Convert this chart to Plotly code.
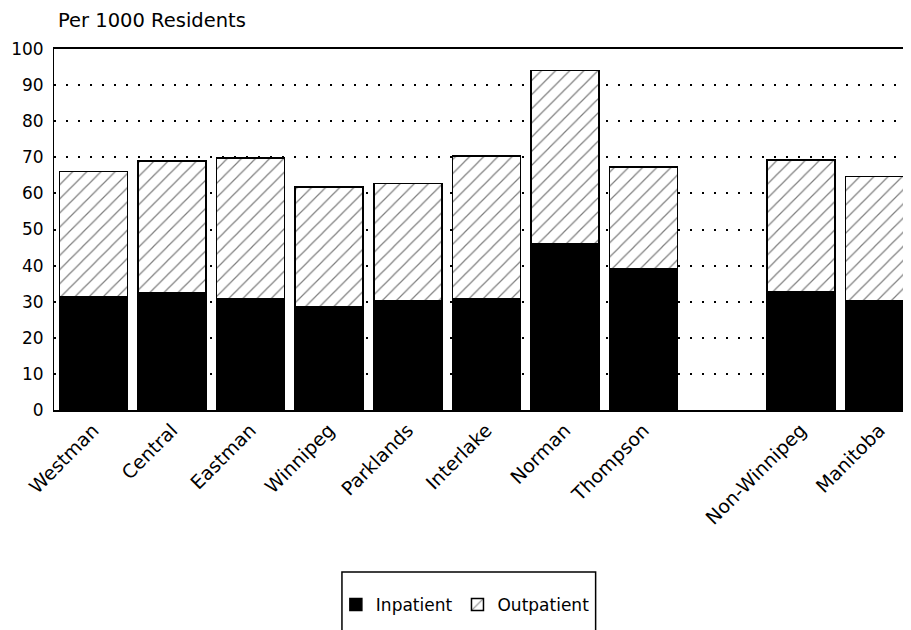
import plotly.graph_objects as go

categories = ["Westman", "Central", "Eastman", "Winnipeg", "Parklands", "Interlake",
              "Norman", "Thompson", " ", "Non-Winnipeg", "Manitoba"]
inpatient = [31.4, 32.6, 30.9, 28.6, 30.4, 30.9, 46.0, 39.1, None, 32.8, 30.2]
total = [66.0, 69.0, 69.8, 61.8, 62.7, 70.4, 94.0, 67.3, None, 69.3, 64.7]
outpatient = [None if t is None else round(t - i, 1) for t, i in zip(total, inpatient)]
y_ticks = [0, 10, 20, 30, 40, 50, 60, 70, 80, 90, 100]

FONT = "DejaVu Sans, Liberation Sans, Arial, sans-serif"

fig = go.Figure()
fig.add_trace(go.Bar(
    x=categories, y=inpatient, name="Inpatient",
    marker=dict(color="black", line=dict(color="black", width=1.5)),
))
fig.add_trace(go.Bar(
    x=categories, y=outpatient, name="Outpatient",
    marker=dict(color="white", line=dict(color="black", width=1.5),
                pattern=dict(shape="/", fgcolor="black", bgcolor="white",
                             size=10, solidity=0.12)),
))

# page body has an 8px margin, so the figure is sized/offset to compensate
fig.update_layout(
    width=903, height=622,
    barmode="stack", bargap=0.135,
    plot_bgcolor="white", paper_bgcolor="white",
    margin=dict(l=46, r=0, t=41, b=220, autoexpand=False),
    font=dict(family=FONT, color="black"),
    showlegend=True,
    legend=dict(orientation="h", x=0.48, xanchor="center", y=-0.54, yanchor="middle",
                font=dict(size=17, family=FONT), bgcolor="rgba(0,0,0,0)",
                traceorder="normal", itemclick=False, itemdoubleclick=False),
    shapes=[dict(type="rect", xref="paper", yref="paper",
                 x0=0.336, x1=0.632, y0=-0.449, y1=-0.65,
                 line=dict(color="black", width=1.5), fillcolor="rgba(0,0,0,0)")],
    annotations=[dict(text="Per 1000 Residents", xref="paper", yref="paper",
                      x=0.0, y=1.08, xanchor="left", yanchor="middle", xshift=2,
                      showarrow=False, font=dict(size=19.5, family=FONT))],
)

fig.update_xaxes(
    type="category", range=[-0.5, 10.4], automargin=False,
    showline=True, linecolor="black", linewidth=1.5, mirror=True,
    tickangle=-45, tickfont=dict(size=19, family=FONT),
    showgrid=False, ticks="",
)
fig.update_yaxes(
    range=[0, 100], tickvals=y_ticks, automargin=False,
    showline=True, linecolor="black", linewidth=1,
    showgrid=True, gridcolor="black", gridwidth=2, griddash="2px,10px",
    zeroline=False, ticks="", ticklabelstandoff=6,
    tickfont=dict(size=17, family=FONT),
)

fig.write_html("out.html")
